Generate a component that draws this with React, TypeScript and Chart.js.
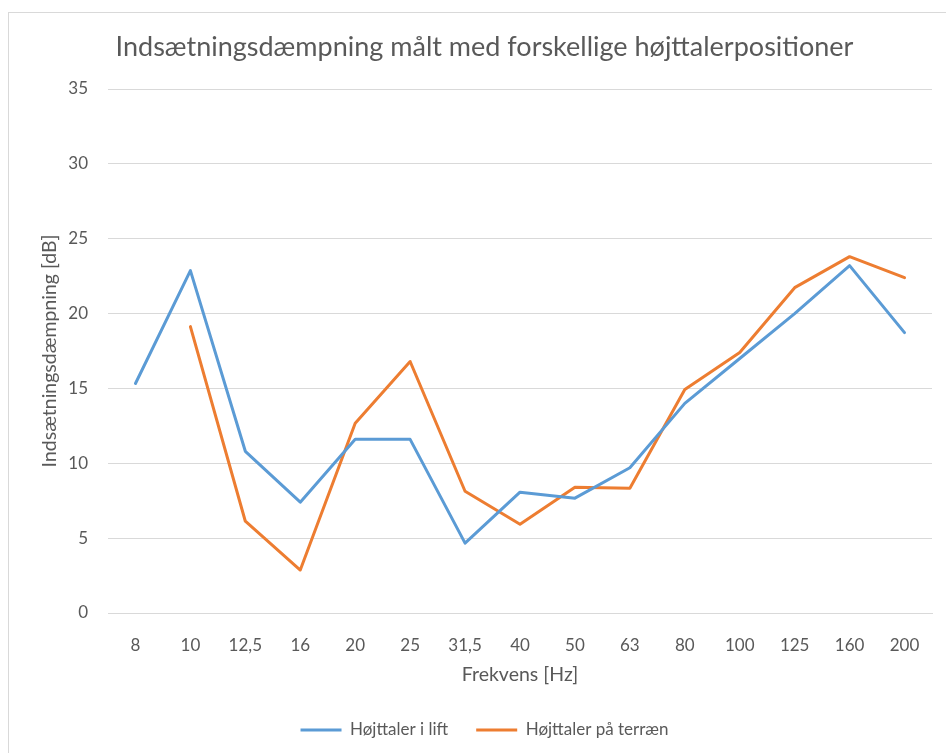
import React, { useEffect, useRef } from "react";
import { Chart, registerables } from "chart.js";

Chart.register(...registerables);

const categories = ["8", "10", "12,5", "16", "20", "25", "31,5", "40", "50", "63", "80", "100", "125", "160", "200"];
const liftValues = [15.33, 22.87, 10.8, 7.4, 11.6, 11.6, 4.67, 8.07, 7.67, 9.7, 14.0, 17.0, 20.0, 23.2, 18.73];
const terrainValues = [null, 19.13, 6.13, 2.87, 12.67, 16.8, 8.13, 5.93, 8.4, 8.33, 14.93, 17.4, 21.73, 23.8, 22.4];
const seriesNames = ["Højttaler i lift", "Højttaler på terræn"];
const titleText = "Indsætningsdæmpning målt med forskellige højttalerpositioner";
const xTitle = "Frekvens [Hz]";
const yTitle = "Indsætningsdæmpning [dB]";

const FONT = "Lato, 'Open Sans', sans-serif";
const TEXT = "#595959";
const GRID = "#d9d9d9";

export default function App() {
  const ref = useRef<HTMLCanvasElement>(null);
  useEffect(() => {
    if (!ref.current) return;
    const chart = new Chart(ref.current, {
      type: "line",
      data: {
        labels: categories,
        datasets: [
          {
            label: seriesNames[0],
            data: liftValues,
            borderColor: "#5B9BD5",
            backgroundColor: "#5B9BD5",
            borderWidth: 3,
            pointRadius: 0,
            borderCapStyle: "round",
            borderJoinStyle: "round",
            tension: 0,
          },
          {
            label: seriesNames[1],
            data: terrainValues,
            borderColor: "#ED7D31",
            backgroundColor: "#ED7D31",
            borderWidth: 3,
            pointRadius: 0,
            borderCapStyle: "round",
            borderJoinStyle: "round",
            tension: 0,
          },
        ],
      },
      options: {
        responsive: false,
        animation: false,
        layout: { padding: { left: 28, right: 14, top: 0, bottom: 4.5 } },
        plugins: {
          title: {
            display: true,
            text: titleText,
            color: TEXT,
            font: { family: FONT, size: 27, weight: "normal" },
            padding: { top: 18.5, bottom: 25.1 },
          },
          legend: {
            position: "bottom",
            labels: {
              usePointStyle: true,
              pointStyle: "line",
              pointStyleWidth: 41,
              padding: 28,
              color: TEXT,
              font: { family: FONT, size: 17 },
            },
          },
          tooltip: { enabled: false },
        },
        scales: {
          x: {
            offset: true,
            grid: { display: false, drawTicks: false, offset: true },
            border: { display: true, color: GRID, width: 1 },
            ticks: { color: TEXT, font: { family: FONT, size: 17 }, padding: 22, maxRotation: 0, autoSkip: false },
            title: {
              display: true,
              text: xTitle,
              color: TEXT,
              font: { family: FONT, size: 19.5 },
              padding: { top: 0, bottom: 6.7 },
            },
            afterFit: (s: any) => {
              s.height = 80.5;
            },
          },
          y: {
            min: 0,
            max: 35,
            ticks: { stepSize: 5, color: TEXT, font: { family: FONT, size: 17 }, padding: 20 },
            grid: { color: GRID, drawTicks: false, lineWidth: 1 },
            border: { display: false },
            title: {
              display: true,
              text: yTitle,
              color: TEXT,
              font: { family: FONT, size: 19.5 },
              padding: { top: 1, bottom: 0 },
            },
            afterFit: (s: any) => {
              s.width = 71;
            },
          },
        },
      },
    });
    return () => chart.destroy();
  }, []);

  return (
    <div
      style={{
        position: "absolute",
        left: 8,
        top: 12,
        width: 938,
        height: 741,
        borderTop: "1px solid #d9d9d9",
        borderLeft: "1px solid #d9d9d9",
        boxSizing: "border-box",
        background: "#fff",
      }}
    >
      <canvas ref={ref} width={937} height={740} style={{ display: "block" }} />
    </div>
  );
}
